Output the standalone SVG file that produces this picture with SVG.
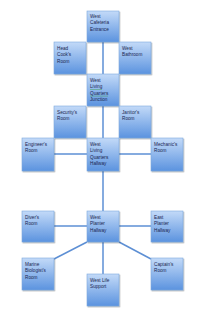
<svg xmlns="http://www.w3.org/2000/svg" width="209" height="320" viewBox="0 0 209 320">
<defs>
<linearGradient id="g" x1="0" y1="0" x2="0" y2="1">
<stop offset="0" stop-color="#c3daf8"/>
<stop offset="1" stop-color="#5b93df"/>
</linearGradient>
<filter id="sh" x="-20%" y="-20%" width="150%" height="150%">
<feDropShadow dx="0.8" dy="1" stdDeviation="0.6" flood-color="#000" flood-opacity="0.35"/>
</filter>
</defs>
<style>
.b{fill:url(#g);stroke:#7ea8de;stroke-width:0.6;filter:url(#sh)}
.t{font-family:"Liberation Sans",Arial,sans-serif;font-size:4.7px;fill:#1b2550}
.c{stroke:#5d8fd4;stroke-width:1.5;fill:none}
</style>
<rect width="209" height="320" fill="#fff"/>
<g id="connectors">
<line class="c" x1="103" y1="42" x2="103" y2="74"/>
<line class="c" x1="103" y1="106" x2="103" y2="138"/>
<line class="c" x1="103" y1="171" x2="103" y2="211"/>
<line class="c" x1="103" y1="242" x2="103" y2="274"/>
<line class="c" x1="54" y1="154" x2="87" y2="154"/>
<line class="c" x1="119" y1="154" x2="151" y2="154"/>
<line class="c" x1="54" y1="226" x2="87" y2="226"/>
<line class="c" x1="119" y1="226" x2="151" y2="226"/>
<line class="c" x1="87" y1="242" x2="54" y2="259"/>
<line class="c" x1="119" y1="242" x2="151" y2="259"/>
</g>
<g id="cafeteria"><rect class="b" x="87" y="11" width="32" height="31"/><text class="t" x="90" y="17.6">West</text><text class="t" x="90" y="24.2">Cafeteria</text><text class="t" x="90" y="30.8">Entrance</text></g>
<g id="headcook"><rect class="b" x="54" y="42" width="32" height="32"/><text class="t" x="57" y="49.6">Head</text><text class="t" x="57" y="56.2">Cook's</text><text class="t" x="57" y="62.8">Room</text></g>
<g id="westbath"><rect class="b" x="119" y="42" width="32" height="32"/><text class="t" x="122" y="49.6">West</text><text class="t" x="122" y="56.2">Bathroom</text></g>
<g id="junction"><rect class="b" x="87" y="74" width="32" height="32"/><text class="t" x="90" y="81.6">West</text><text class="t" x="90" y="88.2">Living</text><text class="t" x="90" y="94.8">Quarters</text><text class="t" x="90" y="101.4">Junction</text>
<path d="M90 89.2 l1 0.6 l1 -0.6 l1 0.6 l1 -0.6 l1 0.6 l1 -0.6 l1 0.6 l1 -0.6 l1 0.6 l1 -0.6 l1 0.6 l1 -0.6 M90 95.8 l1 0.6 l1 -0.6 l1 0.6 l1 -0.6 l1 0.6 l1 -0.6 l1 0.6 l1 -0.6 l1 0.6 l1 -0.6 l1 0.6 l1 -0.6 l1 0.6 l1 -0.6 l1 0.6 l1 -0.6 l1 0.6 l1 -0.6" stroke="#3a9a3a" stroke-width="0.4" fill="none"/></g>
<g id="security"><rect class="b" x="54" y="106" width="32" height="32"/><text class="t" x="57" y="113.6">Security's</text><text class="t" x="57" y="120.2">Room</text></g>
<g id="janitor"><rect class="b" x="119" y="106" width="32" height="32"/><text class="t" x="122" y="113.6">Janitor's</text><text class="t" x="122" y="120.2">Room</text></g>
<g id="engineer"><rect class="b" x="22" y="138" width="32" height="33"/><text class="t" x="25" y="145.6">Engineer's</text><text class="t" x="25" y="152.2">Room</text></g>
<g id="lqhallway"><rect class="b" x="87" y="138" width="32" height="33"/><text class="t" x="90" y="145.6">West</text><text class="t" x="90" y="152.2">Living</text><text class="t" x="90" y="158.8">Quarters</text><text class="t" x="90" y="165.4">Hallway</text></g>
<g id="mechanic"><rect class="b" x="151" y="138" width="32" height="33"/><text class="t" x="154" y="145.6">Mechanic's</text><text class="t" x="154" y="152.2">Room</text></g>
<g id="diver"><rect class="b" x="22" y="211" width="32" height="31"/><text class="t" x="25" y="218.6">Diver's</text><text class="t" x="25" y="225.2">Room</text></g>
<g id="planter"><rect class="b" x="87" y="211" width="32" height="31"/><text class="t" x="90" y="218.6">West</text><text class="t" x="90" y="225.2">Planter</text><text class="t" x="90" y="231.8">Hallway</text></g>
<g id="eastplanter"><rect class="b" x="151" y="211" width="32" height="31"/><text class="t" x="154" y="218.6">East</text><text class="t" x="154" y="225.2">Planter</text><text class="t" x="154" y="231.8">Hallway</text></g>
<g id="marine"><rect class="b" x="22" y="258" width="32" height="32"/><text class="t" x="25" y="265.6">Marine</text><text class="t" x="25" y="272.2">Biologist's</text><text class="t" x="25" y="278.8">Room</text></g>
<g id="lifesupport"><rect class="b" x="87" y="274" width="32" height="32"/><text class="t" x="90" y="281.6">West Life</text><text class="t" x="90" y="288.2">Support</text></g>
<g id="captain"><rect class="b" x="151" y="258" width="32" height="32"/><text class="t" x="154" y="265.6">Captain's</text><text class="t" x="154" y="272.2">Room</text></g>
</svg>
